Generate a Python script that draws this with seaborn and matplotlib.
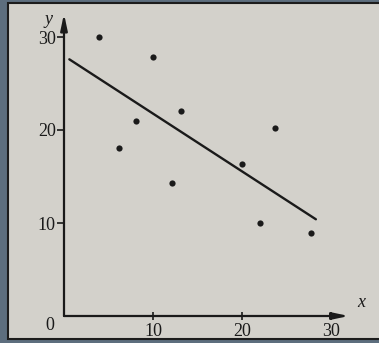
import matplotlib
matplotlib.use("Agg")
import matplotlib.pyplot as plt
import seaborn as sns
import pandas as pd
from matplotlib.patches import Rectangle

# data
x_vals = [3.9, 10.0, 13.1, 8.1, 6.2, 12.1, 23.7, 20.0, 22.0, 27.8]
y_vals = [30.0, 27.8, 22.0, 21.0, 18.1, 14.3, 20.2, 16.3, 10.0, 8.9]
line_x = [0.6, 28.3]
line_y = [27.6, 10.4]
x_ticks = [10, 20, 30]
y_ticks = [10, 20, 30]

sns.set_theme(style="white")
plt.rcParams['font.family'] = ['Liberation Serif', 'DejaVu Serif']

W, H = 379, 343
fig = plt.figure(figsize=(W / 100, H / 100), dpi=100)
fig.patch.set_facecolor('#5d6e7e')
# paper
fig.patches.append(Rectangle((8 / W, 1 - 339 / H), (W - 6) / W, (339 - 3) / H,
                             transform=fig.transFigure, facecolor='#d3d1cb',
                             edgecolor='#1c1c1c', lw=1.5, zorder=-10))

ink = '#1a1a1a'
ax = fig.add_axes([64 / W, 1 - 316 / H, 32 * 8.9 / W, 32.5 * 9.3 / H])
ax.set_zorder(5)
ax.set_facecolor('none')
ax.patch.set_alpha(0)
ax.set_xlim(0, 32)
ax.set_ylim(0, 32.5)
for s in ax.spines.values():
    s.set_visible(False)

df = pd.DataFrame({'x': x_vals, 'y': y_vals})
sns.scatterplot(data=df, x='x', y='y', ax=ax, color=ink, s=20, edgecolor=ink,
                linewidth=0, zorder=3)
sns.lineplot(x=line_x, y=line_y, ax=ax, color=ink, lw=1.7, zorder=3)

# axes with arrows
arrow = dict(arrowstyle='-|>,head_length=0.8,head_width=0.17',
             lw=1.6, color=ink, shrinkA=0, shrinkB=0)
ax.annotate('', xy=(32, 0), xytext=(0, 0), xycoords='data',
            arrowprops=arrow, annotation_clip=False)
ax.annotate('', xy=(0, 32.5), xytext=(0, 0), xycoords='data',
            arrowprops=arrow, annotation_clip=False)

ax.set_xticks(x_ticks)
ax.set_yticks(y_ticks)
ax.set_xticklabels([str(v) for v in x_ticks])
ax.set_yticklabels([str(v) for v in y_ticks])
ax.tick_params(axis='x', direction='inout', length=6, width=1.2, color=ink,
               labelsize=13, labelcolor=ink, pad=2, bottom=True)
ax.tick_params(axis='y', direction='out', length=5, width=1.2, color=ink,
               labelsize=13, labelcolor=ink, pad=1, left=True)
ax.set_xlabel('')
ax.set_ylabel('')

ax.text(-1.1, -0.1, '0', ha='right', va='top', fontsize=13, color=ink)
ax.text(-1.3, 31.0, 'y', ha='right', va='bottom', fontsize=13,
        style='italic', color=ink)
ax.text(32.9, 1.4, 'x', ha='left', va='center', fontsize=13,
        style='italic', color=ink)

fig.savefig('out.png', dpi=100, facecolor=fig.get_facecolor())
